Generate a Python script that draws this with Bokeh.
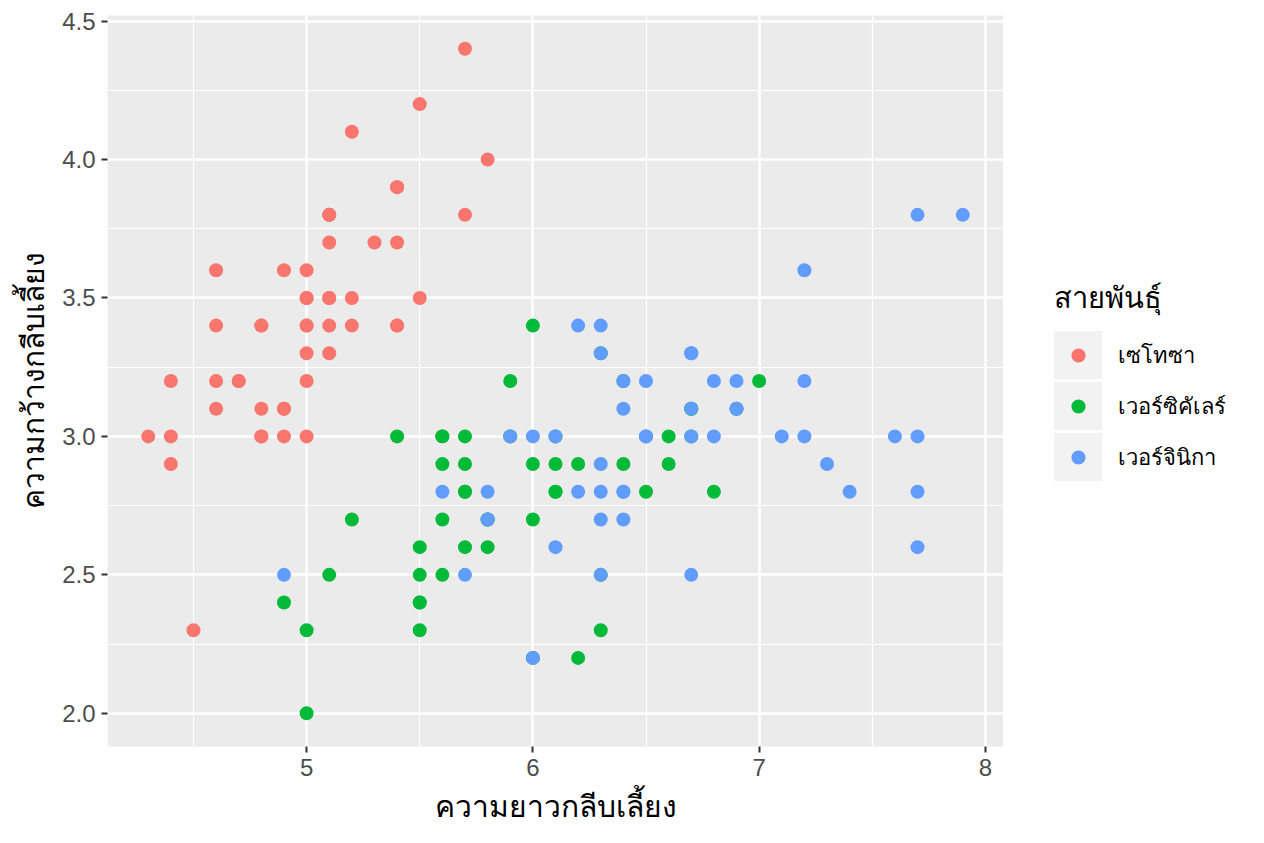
from bokeh.plotting import figure
from bokeh.layouts import row
from bokeh.models import FixedTicker, Legend, LegendItem, PrintfTickFormatter, Range1d
from bokeh.embed import file_html
from bokeh.resources import INLINE

# Iris sepal measurements (as pictured)
setosa_len = [5.1, 4.9, 4.7, 4.6, 5.0, 5.4, 4.6, 5.0, 4.4, 4.9, 5.4, 4.8, 4.8, 4.3, 5.8, 5.7, 5.4, 5.1, 5.7, 5.1,
              5.4, 5.1, 4.6, 5.1, 4.8, 5.0, 5.0, 5.2, 5.2, 4.7, 4.8, 5.4, 5.2, 5.5, 4.9, 5.0, 5.5, 4.9, 4.4, 5.1,
              5.0, 4.5, 4.4, 5.0, 5.1, 4.8, 5.1, 4.6, 5.3, 5.0]
setosa_wid = [3.5, 3.0, 3.2, 3.1, 3.6, 3.9, 3.4, 3.4, 2.9, 3.1, 3.7, 3.4, 3.0, 3.0, 4.0, 4.4, 3.9, 3.5, 3.8, 3.8,
              3.4, 3.7, 3.6, 3.3, 3.4, 3.0, 3.4, 3.5, 3.4, 3.2, 3.1, 3.4, 4.1, 4.2, 3.1, 3.2, 3.5, 3.6, 3.0, 3.4,
              3.5, 2.3, 3.2, 3.5, 3.8, 3.0, 3.8, 3.2, 3.7, 3.3]
versi_len = [7.0, 6.4, 6.9, 5.5, 6.5, 5.7, 6.3, 4.9, 6.6, 5.2, 5.0, 5.9, 6.0, 6.1, 5.6, 6.7, 5.6, 5.8, 6.2, 5.6,
             5.9, 6.1, 6.3, 6.1, 6.4, 6.6, 6.8, 6.7, 6.0, 5.7, 5.5, 5.5, 5.8, 6.0, 5.4, 6.0, 6.7, 6.3, 5.6, 5.5,
             5.5, 6.1, 5.8, 5.0, 5.6, 5.7, 5.7, 6.2, 5.1, 5.7]
versi_wid = [3.2, 3.2, 3.1, 2.3, 2.8, 2.8, 3.3, 2.4, 2.9, 2.7, 2.0, 3.0, 2.2, 2.9, 2.9, 3.1, 3.0, 2.7, 2.2, 2.5,
             3.2, 2.8, 2.5, 2.8, 2.9, 3.0, 2.8, 3.0, 2.9, 2.6, 2.4, 2.4, 2.7, 2.7, 3.0, 3.4, 3.1, 2.3, 3.0, 2.5,
             2.6, 3.0, 2.6, 2.3, 2.7, 3.0, 2.9, 2.9, 2.5, 2.8]
virg_len = [6.3, 5.8, 7.1, 6.3, 6.5, 7.6, 4.9, 7.3, 6.7, 7.2, 6.5, 6.4, 6.8, 5.7, 5.8, 6.4, 6.5, 7.7, 7.7, 6.0,
            6.9, 5.6, 7.7, 6.3, 6.7, 7.2, 6.2, 6.1, 6.4, 7.2, 7.4, 7.9, 6.4, 6.3, 6.1, 7.7, 6.3, 6.4, 6.0, 6.9,
            6.7, 6.9, 5.8, 6.8, 6.7, 6.7, 6.3, 6.5, 6.2, 5.9]
virg_wid = [3.3, 2.7, 3.0, 2.9, 3.0, 3.0, 2.5, 2.9, 2.5, 3.6, 3.2, 2.7, 3.0, 2.5, 2.8, 3.2, 3.0, 3.8, 2.6, 2.2,
            3.2, 2.8, 2.8, 2.7, 3.3, 3.2, 2.8, 3.0, 2.8, 3.0, 2.8, 3.8, 2.8, 2.8, 2.6, 3.0, 3.4, 3.1, 3.0, 3.1,
            3.1, 3.1, 2.7, 3.2, 3.3, 3.0, 2.5, 3.0, 3.4, 3.0]

species = ["เซโทซา", "เวอร์ซิคัเลร์", "เวอร์จินิกา"]
colors = ["#F8766D", "#00BA38", "#619CFF"]
x_ticks = [5, 6, 7, 8]
x_minor = [4.5, 5.5, 6.5, 7.5]
y_ticks = [2.0, 2.5, 3.0, 3.5, 4.0, 4.5]
y_minor = [2.25, 2.75, 3.25, 3.75, 4.25]
x_title = "ความยาวกลีบเลี้ยง"
y_title = "ความกว้างกลีบเลี้ยง"
legend_title = "สายพันธุ์"

FONT = "Liberation Sans"
KEY_BG = "#F2F2F2"
series = ((species[0], colors[0], setosa_len, setosa_wid),
          (species[1], colors[1], versi_len, versi_wid),
          (species[2], colors[2], virg_len, virg_wid))

p = figure(width=1003, height=835, output_backend="svg", toolbar_location=None,
           x_range=Range1d(4.12, 8.08), y_range=Range1d(1.88, 4.52),
           min_border_left=107, min_border_right=0, min_border_top=15, min_border_bottom=89)
p.background_fill_color = "#EBEBEB"
p.border_fill_color = "white"
p.outline_line_color = None

for ax, tks, mn in ((p.xaxis[0], x_ticks, x_minor), (p.yaxis[0], y_ticks, y_minor)):
    ax.ticker = FixedTicker(ticks=tks, minor_ticks=mn)
    ax.axis_line_color = None
    ax.major_tick_line_color = "#333333"
    ax.major_tick_line_width = 2
    ax.major_tick_out = 6
    ax.major_tick_in = 0
    ax.minor_tick_line_color = None
    ax.major_label_text_color = "#4D4D4D"
    ax.major_label_text_font = FONT
    ax.major_label_text_font_size = "24px"
    ax.axis_label_text_font = "Noto Sans"
    ax.axis_label_text_font_size = "30px"
    ax.axis_label_text_font_style = "normal"
    ax.axis_label_text_color = "black"
p.yaxis[0].formatter = PrintfTickFormatter(format="%.1f")
p.xaxis[0].axis_label = x_title
p.yaxis[0].axis_label = y_title
p.xaxis[0].major_label_standoff = 6
p.yaxis[0].major_label_standoff = 6
p.xaxis[0].axis_label_standoff = 6
p.yaxis[0].axis_label_standoff = 6

for g in (p.xgrid[0], p.ygrid[0]):
    g.grid_line_color = "white"
    g.grid_line_width = 2.5
    g.minor_grid_line_color = "white"
    g.minor_grid_line_width = 1.2

for name, col, xs, ys in series:
    p.scatter(xs, ys, size=14, fill_color=col, line_color=None, marker="circle")

# Legend panel: a blank figure whose ranges keep its key renderers off-screen
lf = figure(width=253, height=835, output_backend="svg", toolbar_location=None,
            x_range=Range1d(0, 1), y_range=Range1d(0, 1),
            min_border=0, min_border_left=0, min_border_right=0, min_border_top=0, min_border_bottom=0)
lf.axis.visible = False
lf.grid.visible = False
lf.outline_line_color = None
lf.background_fill_color = "white"
lf.border_fill_color = "white"

items = []
for name, col, xs, ys in series:
    bg = lf.scatter(xs, ys, size=14, marker="square", fill_color=KEY_BG, line_color=KEY_BG,
                    line_width=40, line_join="miter")
    r = lf.scatter(xs, ys, size=14, fill_color=col, line_color=KEY_BG, line_width=5, marker="circle")
    items.append(LegendItem(label=name, renderers=[bg, r]))

legend = Legend(items=items, location=(51, 265), title=legend_title,
                glyph_width=48, glyph_height=48, spacing=3, padding=0, margin=0,
                label_standoff=16, border_line_color=None, background_fill_alpha=0,
                label_text_font="Noto Sans", label_text_font_size="22px", label_text_color="black",
                title_text_font="Noto Sans", title_text_font_size="29px", title_text_font_style="normal",
                title_text_color="black", title_standoff=10)
lf.add_layout(legend, "center")

layout = row(p, lf, spacing=0)
open("out.html", "w").write(file_html(layout, INLINE))
